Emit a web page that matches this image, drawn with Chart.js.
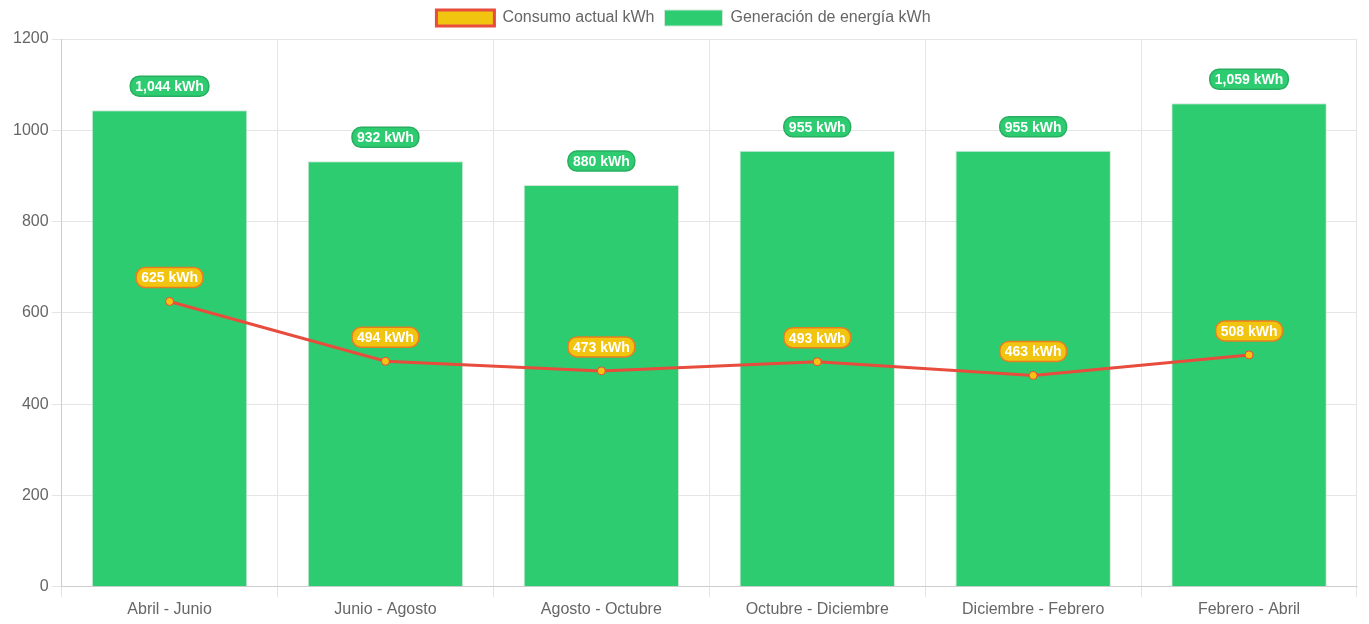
<!DOCTYPE html>
<html>
<head>
<meta charset="utf-8">
<script src="https://cdn.jsdelivr.net/npm/chart.js@4.4.0/dist/chart.umd.min.js"></script>
<style>
  html, body { margin: 0; padding: 0; background: #fff; }
  #wrap { width: 1369px; height: 624px; }
</style>
</head>
<body>
<div id="wrap"><canvas id="energyChart"></canvas></div>
<script>
var periodos = ['Abril - Junio', 'Junio - Agosto', 'Agosto - Octubre', 'Octubre - Diciembre', 'Diciembre - Febrero', 'Febrero - Abril'];
var consumo = [625, 494, 473, 493, 463, 508];
var generacion = [1044, 932, 880, 955, 955, 1059];
var yTicks = [0, 200, 400, 600, 800, 1000, 1200];

var fuente = '"Liberation Sans", Arial, sans-serif';

// pill labels above each bar / point
var pillLabels = {
    id: 'pillLabels',
    afterDatasetsDraw: function(chart) {
        var ctx = chart.ctx;
        ctx.save();
        ctx.font = 'bold 14px ' + fuente;
        ctx.textAlign = 'center';
        ctx.textBaseline = 'middle';
        chart.data.datasets.forEach(function(ds, i) {
            var meta = chart.getDatasetMeta(i);
            if (meta.hidden) return;
            meta.data.forEach(function(el, j) {
                var txt = ds.data[j].toLocaleString('en-US') + ' kWh';
                var w = ctx.measureText(txt).width + 10;
                var h = 20;
                var x = el.x;
                var y = el.y - 24;
                ctx.beginPath();
                ctx.roundRect(x - w / 2, y - h / 2, w, h, 9);
                ctx.fillStyle = ds.pillBg;
                ctx.fill();
                ctx.lineWidth = 1.5;
                ctx.strokeStyle = ds.pillBorder;
                ctx.stroke();
                ctx.fillStyle = '#fff';
                ctx.fillText(txt, x, y + 1);
            });
        });
        ctx.restore();
    }
};

// a bit more room under the legend
var legendGap = {
    id: 'legendGap',
    beforeInit: function(chart) {
        var fit = chart.legend.fit;
        chart.legend.fit = function() {
            fit.bind(chart.legend)();
            this.height += 3;
        };
    }
};

var chart = new Chart(document.getElementById('energyChart'), {
    type: 'bar',
    data: {
        labels: periodos,
        datasets: [{
            type: 'line',
            label: 'Consumo actual kWh',
            data: consumo,
            borderColor: '#e74c3c',
            backgroundColor: '#f1c40f',
            borderWidth: 3,
            pointRadius: 4,
            pointBorderWidth: 1,
            pointBackgroundColor: '#f1c40f',
            pointBorderColor: '#e74c3c',
            tension: 0,
            fill: false,
            pillBg: '#f1c40f',
            pillBorder: '#e67e22'
        }, {
            label: 'Generación de energía kWh',
            data: generacion,
            backgroundColor: '#2ecc71',
            borderColor: '#d0e8d8',
            borderWidth: 1,
            pillBg: '#2ecc71',
            pillBorder: '#27ae60'
        }]
    },
    options: {
        responsive: true,
        maintainAspectRatio: false,
        animation: false,
        layout: { padding: { left: 10, right: 12, bottom: 2, top: 0 } },
        plugins: {
            legend: {
                labels: {
                    color: '#666',
                    font: { size: 16, family: fuente },
                    boxWidth: 58,
                    boxHeight: 16,
                    padding: 10
                }
            },
            tooltip: { enabled: false }
        },
        scales: {
            x: {
                grid: { color: '#e5e5e5', offset: true, tickLength: 10 },
                ticks: { color: '#666', font: { size: 16, family: fuente } }
            },
            y: {
                min: 0,
                max: 1200,
                afterBuildTicks: function(axis) {
                    axis.ticks = yTicks.map(function(v) { return { value: v }; });
                },
                ticks: {
                    color: '#666',
                    font: { size: 16, family: fuente },
                    callback: function(v) { return String(v); }
                },
                grid: { color: '#e5e5e5', tickLength: 10 }
            }
        }
    },
    plugins: [pillLabels, legendGap]
});
</script>
</body>
</html>
